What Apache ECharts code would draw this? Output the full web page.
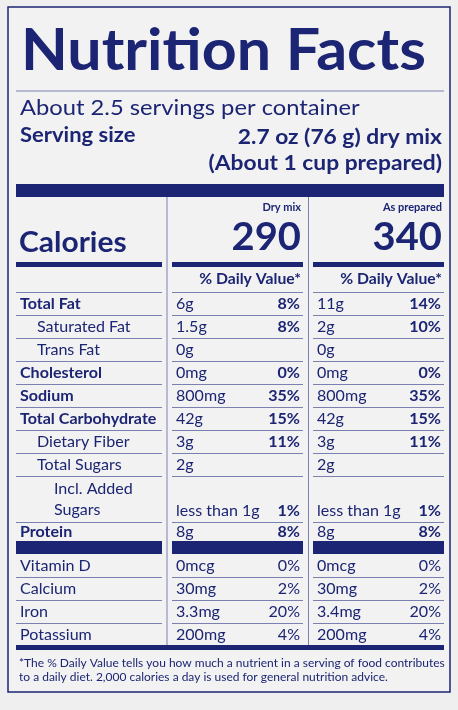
<!DOCTYPE html>
<html>
<head>
<meta charset="utf-8">
<script src="https://cdn.jsdelivr.net/npm/echarts@6/dist/echarts.min.js"></script>
<style>
  html, body { margin: 0; padding: 0; background: #efefef; }
  #myDiv { width: 458px; height: 710px; }
</style>
</head>
<body>
<div id="myDiv"></div>
<script>
// ------------------------------------------------------
// Data
// ------------------------------------------------------
var nutrients = ['Total Fat', 'Saturated Fat', 'Trans Fat', 'Cholesterol', 'Sodium',
  'Total Carbohydrate', 'Dietary Fiber', 'Total Sugars', 'Incl. Added\nSugars', 'Protein']
var boldRows = [true, false, false, true, true, true, false, false, false, true]
var indentRows = [0, 1, 1, 0, 0, 0, 1, 1, 2, 0]
var dryAmount = ['6g', '1.5g', '0g', '0mg', '800mg', '42g', '3g', '2g', 'less than 1g', '8g']
var dryDV = ['8%', '8%', '', '0%', '35%', '15%', '11%', '', '1%', '8%']
var prepAmount = ['11g', '2g', '0g', '0mg', '800mg', '42g', '3g', '2g', 'less than 1g', '8g']
var prepDV = ['14%', '10%', '', '0%', '35%', '15%', '11%', '', '1%', '8%']

var vitamins = ['Vitamin D', 'Calcium', 'Iron', 'Potassium']
var vitDryAmount = ['0mcg', '30mg', '3.3mg', '200mg']
var vitDryDV = ['0%', '2%', '20%', '4%']
var vitPrepAmount = ['0mcg', '30mg', '3.4mg', '200mg']
var vitPrepDV = ['0%', '2%', '20%', '4%']

var calories = [290, 340]
var columnNames = ['Dry mix', 'As prepared']

// ------------------------------------------------------
// Layout
// ------------------------------------------------------
var navy = '#1c2573'
var thin = '#7a80b0'
var font = 'Lato'
var cols = [[16, 162], [172, 303], [313, 444]]
var g = []

function txt(x, y, s, size, weight, align, sx) {
  g.push({type: 'text', x: x, y: y, scaleX: sx || 1, style: {
    text: s, fill: navy, font: (weight || 'normal') + ' ' + size + 'px ' + font,
    textAlign: align || 'left', textVerticalAlign: 'middle', lineHeight: 21
  }})
}
function bar(x1, x2, y1, y2) {
  g.push({type: 'rect', shape: {x: x1, y: y1, width: x2 - x1, height: y2 - y1}, style: {fill: navy}})
}
function line(x1, y1, x2, y2, w) {
  g.push({type: 'line', shape: {x1: x1, y1: y1, x2: x2, y2: y2}, style: {stroke: thin, lineWidth: w || 1}})
}

// frame + header
g.push({type: 'rect', shape: {x: 8, y: 7, width: 442, height: 685}, style: {fill: '#f2f2f2', stroke: navy, lineWidth: 1.5}})
txt(21, 51, 'Nutrition Facts', 58, 'bold', 'left', 1.05)
line(16, 91, 444, 91, 1)
txt(20, 108, 'About 2.5 servings per container', 21, 'normal', 'left', 1.13)
txt(20, 136, 'Serving size', 20, 'bold', 'left', 1.1)
txt(442, 138, '2.7 oz (76 g) dry mix', 20, 'bold', 'right', 1.14)
txt(442, 164, '(About 1 cup prepared)', 20, 'bold', 'right', 1.14)
bar(16, 444, 184, 197)

// columns
line(167, 197, 167, 645, 1)
line(308.5, 197, 308.5, 645, 1)
txt(301, 207, columnNames[0], 11, 'bold', 'right')
txt(442, 207, columnNames[1], 11, 'bold', 'right')
txt(19, 243, 'Calories', 28, 'bold', 'left', 1.07)
txt(301, 238, String(calories[0]), 38, 'bold', 'right', 1.05)
txt(442, 238, String(calories[1]), 38, 'bold', 'right', 1.05)
cols.forEach(function (c) { bar(c[0], c[1], 262, 267) })
txt(301, 279, '% Daily Value*', 15, 'bold', 'right', 1.05)
txt(442, 279, '% Daily Value*', 15, 'bold', 'right', 1.05)

function row(y1, y2, ly, label, bold, indent, a1, p1, a2, p2, pBold, sep) {
  var yc = (y1 + y2) / 2 + 1
  txt(20 + indent * 17, ly, label, 15, bold ? 'bold' : 'normal', 'left', 1.07)
  txt(176, yc, a1, 15, 'normal', 'left', 1.07)
  txt(300, yc, p1, 15, pBold ? 'bold' : 'normal', 'right', 1.07)
  txt(317, yc, a2, 15, 'normal', 'left', 1.07)
  txt(441, yc, p2, 15, pBold ? 'bold' : 'normal', 'right', 1.07)
  if (sep) cols.forEach(function (c) { line(c[0], y2 + 0.5, c[1], y2 + 0.5, 1) })
}

cols.forEach(function (c) { line(c[0], 292.5, c[1], 292.5, 1) })
var y = 292
nutrients.forEach(function (n, i) {
  var two = n.indexOf('\n') >= 0
  var y2 = i === nutrients.length - 1 ? 541 : y + (two ? 46 : 23)
  var top = two ? y + 23 : y
  var ly = two ? y + 24 : (top + y2) / 2 + 1
  row(top, y2, ly, n, boldRows[i], indentRows[i],
    dryAmount[i], dryDV[i], prepAmount[i], prepDV[i], true, i < nutrients.length - 1)
  y = y2
})
cols.forEach(function (c) { bar(c[0], c[1], 541, 554) })
y = 554
vitamins.forEach(function (n, i) {
  row(y, y + 23, y + 12.5, n, false, 0, vitDryAmount[i], vitDryDV[i], vitPrepAmount[i], vitPrepDV[i], false, i < vitamins.length - 1)
  y += 23
})
bar(16, 444, 645, 650)
txt(19, 663, '*The % Daily Value tells you how much a nutrient in a serving of food contributes', 11, 'normal', 'left', 1.09)
txt(19, 677, 'to a daily diet. 2,000 calories a day is used for general nutrition advice.', 11, 'normal', 'left', 1.09)

var myChart = echarts.init(document.getElementById('myDiv'))
myChart.setOption({backgroundColor: '#efefef', graphic: {elements: g}})
</script>
</body>
</html>
